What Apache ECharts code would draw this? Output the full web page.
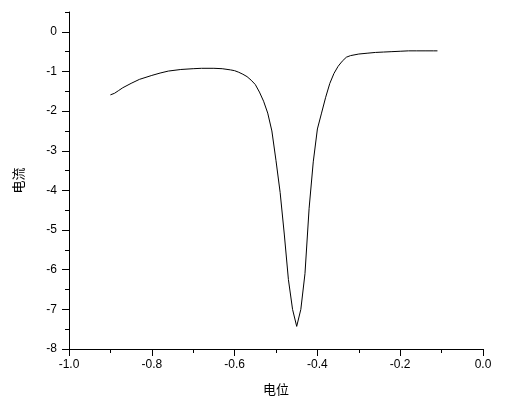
<!DOCTYPE html>
<html>
<head>
<meta charset="utf-8">
<script src="https://cdn.jsdelivr.net/npm/echarts@6/dist/echarts.min.js"></script>
<style>
  html, body { margin: 0; padding: 0; background: #fff; }
  #chart { width: 512px; height: 409px; }
</style>
</head>
<body>
<div id="chart"></div>
<script>
// potential (V) and current
var potential = [
  -0.90, -0.89, -0.88, -0.87, -0.85, -0.83, -0.80, -0.78, -0.76, -0.73,
  -0.70, -0.68, -0.65, -0.63, -0.61, -0.60, -0.59, -0.58, -0.57, -0.56,
  -0.55, -0.54, -0.53, -0.52, -0.51, -0.50, -0.49, -0.48, -0.47, -0.46,
  -0.45, -0.44, -0.43, -0.42, -0.41, -0.40, -0.39, -0.38, -0.37, -0.36,
  -0.35, -0.34, -0.33, -0.32, -0.30, -0.28, -0.26, -0.24, -0.22, -0.20,
  -0.18, -0.16, -0.14, -0.12, -0.11
];
var current = [
  -1.59, -1.55, -1.48, -1.41, -1.30, -1.20, -1.10, -1.04, -0.99, -0.95,
  -0.93, -0.92, -0.92, -0.93, -0.96, -0.98, -1.02, -1.07, -1.13, -1.22,
  -1.33, -1.52, -1.75, -2.05, -2.50, -3.25, -4.05, -5.10, -6.25, -7.00,
  -7.43, -7.00, -6.10, -4.45, -3.28, -2.45, -2.05, -1.65, -1.30, -1.05,
  -0.87, -0.74, -0.64, -0.60, -0.56, -0.54, -0.52, -0.51, -0.50, -0.49,
  -0.48, -0.48, -0.48, -0.48, -0.48
];
var yTicks = [-8, -7, -6, -5, -4, -3, -2, -1, 0];
var xName = '电位';
var yName = '电流';

var points = [];
for (var i = 0; i < potential.length; i++) {
  points.push([potential[i], current[i]]);
}

var chart = echarts.init(document.getElementById('chart'));
var labelStyle = {
  color: '#000',
  fontFamily: 'Liberation Sans, Arial, sans-serif',
  fontSize: 12
};
var gridBox = { left: 69, right: 29, top: 12, bottom: 60 };
var option = {
  animation: false,
  grid: [gridBox, Object.assign({}, gridBox)],
  xAxis: [{
    type: 'value',
    min: -1, max: 0, interval: 0.2,
    name: xName,
    nameLocation: 'middle',
    nameGap: 34,
    nameTextStyle: { color: '#000', fontSize: 13, fontFamily: 'Noto Sans CJK SC' },
    axisLine: { onZero: false, lineStyle: { color: '#000', width: 1 } },
    axisTick: { length: 7, lineStyle: { color: '#000' } },
    minorTick: { show: true, splitNumber: 2, length: 4, lineStyle: { color: '#000' } },
    splitLine: { show: false },
    axisLabel: Object.assign({ margin: 10, formatter: function (v) { return v.toFixed(1); } }, labelStyle)
  }, {
    // helper axis for the second grid, hidden
    gridIndex: 1, type: 'value', min: -1, max: 0, show: false
  }],
  yAxis: [{
    type: 'value',
    min: -8, max: 0.5, interval: 1,
    name: yName,
    nameLocation: 'middle',
    nameGap: 44,
    nameRotate: 90,
    nameTextStyle: { color: '#000', fontSize: 13, fontFamily: 'Noto Sans CJK SC' },
    axisLine: { onZero: false, lineStyle: { color: '#000', width: 1 } },
    axisTick: { length: 7, lineStyle: { color: '#000' }, customValues: yTicks },
    splitLine: { show: false },
    axisLabel: Object.assign({ margin: 12, customValues: yTicks }, labelStyle)
  }, {
    // half-unit minor ticks on the same left edge (own grid so it stays left)
    gridIndex: 1,
    type: 'value',
    position: 'left',
    min: -8, max: 0.5, interval: 0.5,
    axisLine: { show: false, onZero: false },
    axisTick: { show: true, length: 4, lineStyle: { color: '#000' } },
    axisLabel: { show: false },
    splitLine: { show: false }
  }],
  series: [{
    type: 'line',
    data: points,
    showSymbol: false,
    smooth: false,
    lineStyle: { color: '#000', width: 1 }
  }]
};
chart.setOption(option);
</script>
</body>
</html>
